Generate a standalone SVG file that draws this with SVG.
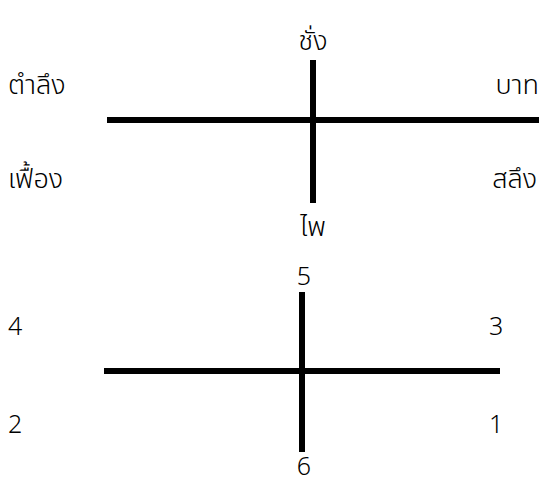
<svg xmlns="http://www.w3.org/2000/svg" width="539" height="479" viewBox="0 0 539 479">
<style>
.t{font-family:"Noto Sans Thai","Noto Sans","DejaVu Sans",sans-serif;font-size:25px;font-weight:300;fill:#000}
.th{font-size:27px}
.m{text-anchor:middle}
.e{text-anchor:end}
.l{stroke:#000;stroke-width:6;fill:none}
</style>
<rect width="539" height="479" fill="#fff"/>
<g id="connectors">
<line class="l" x1="107" y1="120" x2="539" y2="120"/>
<line class="l" x1="313" y1="60" x2="313" y2="203"/>
<line class="l" x1="104" y1="371" x2="500" y2="371"/>
<line class="l" x1="302" y1="292" x2="302" y2="452"/>
</g>
<g id="n-chang"><text class="t th m" x="313" y="50">ชั่ง</text></g>
<g id="n-tamlueng"><text class="t th" x="8" y="94">ตำลึง</text></g>
<g id="n-baht"><text class="t th e" x="539" y="94">บาท</text></g>
<g id="n-fueang"><text class="t th" x="8" y="188">เฟื้อง</text></g>
<g id="n-salueng"><text class="t th e" x="537" y="188">สลึง</text></g>
<g id="n-phai"><text class="t th m" x="313" y="236">ไพ</text></g>
<g id="n-5"><text class="t m" x="304" y="285">5</text></g>
<g id="n-4"><text class="t" x="8" y="335">4</text></g>
<g id="n-3"><text class="t" x="489" y="335">3</text></g>
<g id="n-2"><text class="t" x="8" y="433">2</text></g>
<g id="n-1"><text class="t" x="489" y="433">1</text></g>
<g id="n-6"><text class="t m" x="304" y="475">6</text></g>
</svg>
